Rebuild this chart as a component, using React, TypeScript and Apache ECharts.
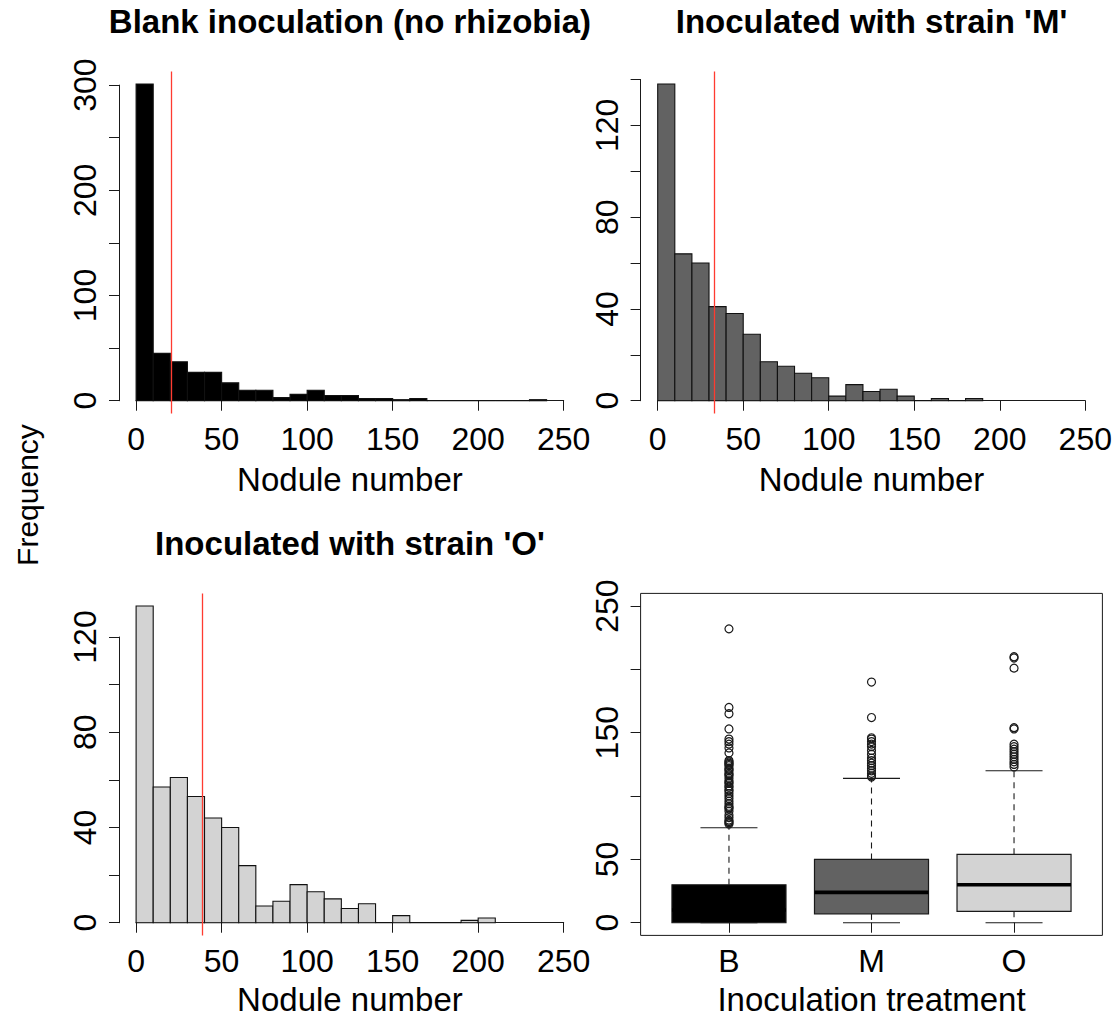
import React, { useEffect, useRef } from "react";
import * as echarts from "echarts";

// ---------- data ----------
const BIN_WIDTH = 10;
const blankCounts = [301, 45, 37, 27, 27, 17, 10, 10, 3, 6, 10, 5, 5, 2, 2, 1, 2, 0, 0, 0, 0, 0, 0, 1];
const strainMCounts = [138, 64, 60, 41, 38, 29, 17, 15, 12, 10, 2, 7, 4, 5, 2, 0, 1, 0, 1];
const strainOCounts = [133, 57, 61, 53, 44, 40, 24, 7, 9, 16, 13, 10, 6, 8, 0, 3, 0, 0, 0, 1, 2];
const meanValues = [20.5, 33.2, 38.5];
const histTitles = ["Blank inoculation (no rhizobia)", "Inoculated with strain 'M'", "Inoculated with strain 'O'"];
const histFills = ["#000000", "#626262", "#d3d3d3"];
const histYTickMax = [300, 140, 120];
const histYTickStep = [50, 20, 20];
const histYLabelStep = [100, 40, 40];

const treatments = ["B", "M", "O"];
const boxMin = [0, 0, 0];
const boxQ1 = [0, 7, 9];
const boxMedian = [10, 24, 30];
const boxQ3 = [30, 50, 54];
const boxMax = [75, 114, 120];
const boxFills = ["#000000", "#626262", "#d3d3d3"];
const outliersB = [232, 170, 165, 153, 145, 143, 141, 138, 134, 128, 127, 126, 125, 124, 122, 121, 120, 118, 117, 116, 114, 112, 111, 110, 108, 107, 105, 104, 102, 100, 98, 96, 94, 92, 91, 90, 88, 85, 83, 81, 80, 79, 78];
const outliersM = [190, 162, 146, 145, 143, 141, 139, 136, 133, 130, 128, 126, 124, 122, 120, 118, 116, 115];
const outliersO = [210, 209, 201, 154, 153, 141, 139, 137, 135, 133, 131, 129, 127, 125, 123];
const boxYTicks = [0, 50, 100, 150, 200, 250];
const boxYLabels = [0, 50, 150, 250];

// ---------- layout ----------
const FONT = "'Liberation Sans', Arial, Helvetica, sans-serif";
const COL_L = [119, 640.6];
const COL_W = 461.8;
const ROW_T = [71.4, 593.4];
const ROW_H = 342;
const NAME_GAP = [49.5, 47.5];
const FS_TICK = 32;
const FS_NAME = 33;
const TICK_LEN = 10;

const axisLineStyle = { color: "#1a1a1a", width: 1 };

function buildOption() {
  const grids: any[] = [];
  const xAxes: any[] = [];
  const yAxes: any[] = [];
  const series: any[] = [];
  const graphics: any[] = [];

  const panels = [
    { counts: blankCounts, col: 0, row: 0 },
    { counts: strainMCounts, col: 1, row: 0 },
    { counts: strainOCounts, col: 0, row: 1 },
  ];

  panels.forEach((p, i) => {
    const L = COL_L[p.col];
    const T = ROW_T[p.row];
    const maxC = Math.max(...p.counts);
    const ymin = -0.04 * maxC;
    const ymax = 1.04 * maxC;
    const k = ROW_H / (ymax - ymin);
    const gA = grids.length;
    grids.push({
      left: L + (10 / 270) * COL_W,
      top: T,
      width: (250 / 270) * COL_W,
      height: ROW_H,
      outerBoundsMode: "none",
    });
    xAxes.push({
      gridIndex: gA,
      type: "value",
      min: 0,
      max: 250,
      interval: 50,
      axisLine: { show: true, lineStyle: axisLineStyle },
      axisTick: { show: true, length: TICK_LEN, lineStyle: axisLineStyle },
      axisLabel: { color: "#000", fontSize: FS_TICK, fontFamily: FONT, margin: 10, showMinLabel: true, showMaxLabel: true },
      splitLine: { show: false },
      name: "Nodule number",
      nameLocation: "middle",
      nameGap: NAME_GAP[p.row],
      nameTextStyle: { color: "#000", fontSize: FS_NAME, fontFamily: FONT },
    });
    yAxes.push({ gridIndex: gA, type: "value", min: ymin, max: ymax, show: false });

    const gB = grids.length;
    const tickMax = histYTickMax[i];
    grids.push({
      left: L,
      top: T + (ymax - tickMax) * k,
      width: 40,
      height: tickMax * k,
      outerBoundsMode: "none",
    });
    xAxes.push({ gridIndex: gB, type: "value", show: false });
    const labStep = histYLabelStep[i];
    yAxes.push({
      gridIndex: gB,
      type: "value",
      min: 0,
      max: tickMax,
      interval: histYTickStep[i],
      axisLine: { show: true, lineStyle: axisLineStyle },
      axisTick: { show: true, length: TICK_LEN, lineStyle: axisLineStyle },
      axisLabel: {
        color: "#000",
        fontSize: FS_TICK,
        fontFamily: FONT,
        rotate: 90,
        margin: 18,
        showMinLabel: true,
        showMaxLabel: true,
        formatter: (v: number) => (v % labStep === 0 ? String(v) : ""),
      },
      splitLine: { show: false },
    });

    const fill = histFills[i];
    series.push({
      type: "custom",
      xAxisIndex: gA,
      yAxisIndex: gA,
      encode: { x: [0, 1], y: 2 },
      data: p.counts.map((c, j) => [j * BIN_WIDTH, (j + 1) * BIN_WIDTH, c]),
      renderItem: (params: any, api: any) => {
        const p0 = api.coord([api.value(0), api.value(2)]);
        const p1 = api.coord([api.value(1), 0]);
        return {
          type: "rect",
          shape: { x: p0[0], y: p0[1], width: p1[0] - p0[0], height: p1[1] - p0[1] },
          style: { fill, stroke: "#111", lineWidth: 1.1 },
        };
      },
      silent: true,
      markLine: {
        silent: true,
        symbol: "none",
        label: { show: false },
        lineStyle: { color: "#ff3b30", type: "solid", width: 1.3 },
        data: [{ xAxis: meanValues[i] }],
      },
    });

    graphics.push({
      type: "text",
      x: L + COL_W / 2,
      y: T - 49.5,
      style: {
        text: histTitles[i],
        fontSize: 33,
        fontWeight: "bold",
        fontFamily: FONT,
        fill: "#000",
        textAlign: "center",
        textVerticalAlign: "middle",
      },
    });
  });

  // ---------- boxplot panel ----------
  const gBox = grids.length;
  grids.push({
    left: COL_L[1],
    top: ROW_T[1],
    width: COL_W,
    height: ROW_H,
    show: true,
    borderColor: "#1a1a1a",
    borderWidth: 1,
    backgroundColor: "transparent",
    outerBoundsMode: "none",
  });
  xAxes.push({
    gridIndex: gBox,
    type: "value",
    min: 0.38,
    max: 3.62,
    axisLine: { show: false },
    axisTick: { show: true, length: TICK_LEN, lineStyle: axisLineStyle, customValues: [1, 2, 3] },
    axisLabel: {
      color: "#000",
      fontSize: FS_TICK,
      fontFamily: FONT,
      margin: 10,
      customValues: [1, 2, 3],
      formatter: (v: number) => treatments[Math.round(v) - 1] || "",
    },
    splitLine: { show: false },
    name: "Inoculation treatment",
    nameLocation: "middle",
    nameGap: NAME_GAP[1],
    nameTextStyle: { color: "#000", fontSize: FS_NAME, fontFamily: FONT },
  });
  yAxes.push({
    gridIndex: gBox,
    type: "value",
    min: -10,
    max: 260,
    axisLine: { show: false },
    axisTick: { show: true, length: TICK_LEN, lineStyle: axisLineStyle, customValues: boxYTicks },
    axisLabel: {
      color: "#000",
      fontSize: FS_TICK,
      fontFamily: FONT,
      rotate: 90,
      margin: 18,
      customValues: boxYLabels,
    },
    splitLine: { show: false },
  });

  series.push({
    type: "custom",
    xAxisIndex: gBox,
    yAxisIndex: gBox,
    encode: { x: 0, y: [1, 2, 3, 4, 5] },
    data: treatments.map((t, i) => [i + 1, boxMin[i], boxQ1[i], boxMedian[i], boxQ3[i], boxMax[i]]),
    silent: true,
    renderItem: (params: any, api: any) => {
      const x = api.value(0);
      const mn = api.value(1);
      const q1 = api.value(2);
      const md = api.value(3);
      const q3 = api.value(4);
      const mx = api.value(5);
      const hb = 0.4;
      const hc = 0.2;
      const c = (a: number, b: number) => api.coord([a, b]);
      const line = (a: number[], b: number[], style: any) => ({
        type: "line",
        shape: { x1: a[0], y1: a[1], x2: b[0], y2: b[1] },
        style: Object.assign({ stroke: "#1a1a1a", lineWidth: 1.1 }, style),
      });
      const tl = c(x - hb, q3);
      const br = c(x + hb, q1);
      return {
        type: "group",
        children: [
          line(c(x, q3), c(x, mx), { lineDash: [6, 5] }),
          line(c(x, q1), c(x, mn), { lineDash: [6, 5] }),
          line(c(x - hc, mx), c(x + hc, mx), {}),
          line(c(x - hc, mn), c(x + hc, mn), {}),
          {
            type: "rect",
            shape: { x: tl[0], y: tl[1], width: br[0] - tl[0], height: br[1] - tl[1] },
            style: { fill: boxFills[params.dataIndex], stroke: "#1a1a1a", lineWidth: 1.2 },
          },
          line(c(x - hb, md), c(x + hb, md), { stroke: "#000", lineWidth: 3.6 }),
        ],
      };
    },
  });

  const outlierData: number[][] = [];
  [outliersB, outliersM, outliersO].forEach((arr, i) => arr.forEach((v) => outlierData.push([i + 1, v])));
  series.push({
    type: "scatter",
    xAxisIndex: gBox,
    yAxisIndex: gBox,
    data: outlierData,
    symbol: "circle",
    symbolSize: 8,
    silent: true,
    itemStyle: { color: "rgba(0,0,0,0)", borderColor: "#1a1a1a", borderWidth: 1.2, opacity: 1 },
  });

  graphics.push({
    type: "text",
    x: 27,
    y: 495,
    rotation: Math.PI / 2,
    style: {
      text: "Frequency",
      fontSize: 30,
      fontFamily: FONT,
      fill: "#000",
      textAlign: "center",
      textVerticalAlign: "middle",
    },
  });

  return {
    animation: false,
    backgroundColor: "#ffffff",
    grid: grids,
    xAxis: xAxes,
    yAxis: yAxes,
    series,
    graphic: graphics,
  };
}

export default function App() {
  const ref = useRef<HTMLDivElement>(null);
  useEffect(() => {
    if (!ref.current) return;
    const chart = echarts.init(ref.current, undefined, { renderer: "svg" });
    chart.setOption(buildOption() as any);
    return () => chart.dispose();
  }, []);
  return (
    <div
      ref={ref}
      style={{ position: "absolute", left: 0, top: 0, width: 1116, height: 1017, background: "#fff" }}
    />
  );
}
